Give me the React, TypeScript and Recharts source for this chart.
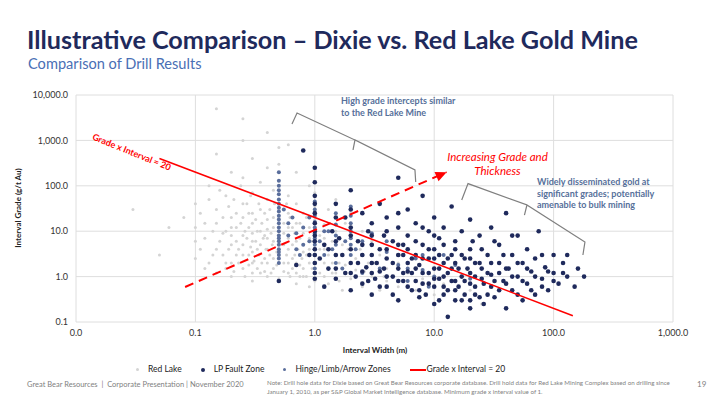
import { CartesianGrid, Scatter, ScatterChart, XAxis, YAxis } from "recharts";

type P = [number, number];

const X_TICKS = [0.01, 0.1, 1, 10, 100, 1000];
const Y_TICKS = [0.1, 1, 10, 100, 1000, 10000];

// width (m), grade (g/t Au)
const RED_LAKE: P[] = [
  [0.03, 30], [0.05, 3], [0.06, 12], [0.08, 20], [0.1, 6], [0.1, 40], [0.12, 1.5], [0.12, 15], [0.13, 100],
  [0.15, 4], [0.15, 30], [0.15, 500], [0.15, 5000], [0.17, 9], [0.18, 2], [0.18, 60], [0.2, 1], [0.2, 5],
  [0.2, 20], [0.2, 200], [0.22, 3], [0.22, 12], [0.25, 1.5], [0.25, 8], [0.25, 40], [0.25, 150], [0.25, 1000],
  [0.25, 3000], [0.28, 3], [0.28, 25], [0.3, 0.8], [0.3, 2], [0.3, 6], [0.3, 15], [0.3, 70], [0.3, 400],
  [0.33, 4], [0.33, 10], [0.35, 1.2], [0.35, 30], [0.35, 120], [0.38, 2.5], [0.38, 8], [0.4, 1], [0.4, 4],
  [0.4, 18], [0.4, 50], [0.4, 250], [0.4, 1500], [0.45, 1.5], [0.45, 6], [0.45, 12], [0.45, 80], [0.5, 0.9],
  [0.5, 2], [0.5, 3], [0.5, 5], [0.5, 8], [0.5, 10], [0.5, 15], [0.5, 20], [0.5, 30], [0.5, 50], [0.5, 100],
  [0.5, 300], [0.5, 700], [0.55, 2], [0.55, 9], [0.6, 1.2], [0.6, 4], [0.6, 25], [0.6, 60], [0.6, 800],
  [0.65, 2.5], [0.65, 12], [0.7, 0.7], [0.7, 6], [0.7, 40], [0.7, 200], [0.75, 1.8], [0.75, 15], [0.8, 1],
  [0.8, 3.5], [0.8, 9], [0.85, 20], [0.9, 0.6], [0.9, 2], [0.9, 7], [0.9, 100], [1, 0.8], [1, 1.5], [1, 3],
  [1, 5], [1, 10], [1, 18], [1, 35], [1, 70], [1.1, 2.5], [1.1, 8], [1.2, 1], [1.2, 4], [1.2, 14], [1.3, 0.7],
  [1.3, 30], [1.4, 2], [1.4, 6], [1.5, 1.2], [1.5, 3], [1.5, 10], [1.5, 50], [1.7, 0.5], [1.7, 5], [1.8, 1.8],
  [1.8, 15], [2, 0.9], [2, 3], [2, 8], [2, 25], [2.2, 1.4], [2.4, 4], [2.5, 0.6], [2.5, 10], [2.8, 2], [3, 1],
  [3, 6], [3.5, 0.5], [3.5, 3], [4, 1.5], [4, 0.8], [5, 2], [5, 0.6], [6, 1.2], [7, 0.5], [8, 0.9], [10, 0.4],
  [12, 0.7], [15, 0.3], [20, 0.5], [25, 0.25],
  // denser core of the cloud
  [0.1, 2.5], [0.1, 12], [0.11, 4], [0.11, 25], [0.12, 7], [0.13, 2], [0.13, 50], [0.14, 10], [0.14, 3],
  [0.15, 1.2], [0.15, 15], [0.16, 6], [0.16, 80], [0.17, 3], [0.17, 20], [0.18, 1.5], [0.18, 10], [0.19, 4],
  [0.19, 35], [0.2, 2], [0.2, 8], [0.2, 12], [0.21, 50], [0.21, 1.3], [0.22, 6], [0.22, 25], [0.23, 2],
  [0.23, 4], [0.24, 15], [0.24, 100], [0.25, 3], [0.25, 5], [0.25, 20], [0.26, 1], [0.26, 10], [0.27, 7],
  [0.27, 40], [0.28, 1.8], [0.28, 12], [0.29, 4.5], [0.29, 60], [0.3, 1.2], [0.3, 3.5], [0.3, 9], [0.3, 25],
  [0.31, 2.2], [0.32, 6], [0.32, 18], [0.33, 1.5], [0.34, 3], [0.34, 40], [0.35, 5], [0.35, 10], [0.36, 2],
  [0.36, 15], [0.37, 7], [0.38, 1.3], [0.38, 25], [0.39, 4], [0.4, 2], [0.4, 7], [0.4, 11], [0.42, 3],
  [0.42, 30], [0.43, 1.2], [0.43, 9], [0.44, 5], [0.45, 2.5], [0.45, 20], [0.46, 40], [0.48, 3.5], [0.48, 1.8],
  [0.55, 1.3], [0.55, 5], [0.55, 15], [0.58, 3], [0.58, 40], [0.6, 2], [0.6, 7], [0.6, 12], [0.62, 1], [0.62, 20],
  [0.65, 1.5], [0.65, 5], [0.68, 3], [0.68, 9], [0.7, 1.2], [0.7, 2], [0.7, 15], [0.72, 4], [0.75, 1], [0.75, 7],
  [0.78, 2.5], [0.8, 1.5], [0.8, 5], [0.8, 25], [0.85, 3], [0.85, 1], [0.9, 4], [0.9, 12], [0.95, 1.5],
  [0.95, 6], [1.1, 1.2], [1.1, 4], [1.2, 2], [1.2, 7], [1.3, 3], [1.4, 1.2], [1.6, 2], [1.6, 0.8], [1.9, 4],
  [2.2, 2.5], [2.6, 1.3], [3.2, 2], [3.8, 1],
];

const LP_FAULT: P[] = [
  [0.5, 0.8], [0.7, 1.8], [0.8, 600], [0.9, 3], [1, 1.2], [1, 2], [1, 4], [1, 8], [1, 15], [1, 25], [1, 60],
  [1, 120], [1, 250], [1.2, 0.6], [1.2, 5], [1.3, 1.5], [1.4, 10], [1.5, 0.9], [1.5, 3], [1.5, 40], [1.6, 7],
  [1.8, 1.2], [1.8, 20], [2, 0.5], [2, 2], [2, 4], [2, 12], [2, 80], [2.2, 1], [2.3, 6], [2.5, 0.7], [2.5, 3],
  [2.5, 25], [2.7, 1.6], [2.8, 10], [3, 0.4], [3, 2], [3, 5], [3, 15], [3.2, 0.9], [3.5, 1.3], [3.5, 4],
  [3.5, 40], [3.8, 8], [4, 0.6], [4, 2.5], [4, 20], [4.5, 1], [4.5, 6], [5, 0.3], [5, 1.5], [5, 3], [5, 12],
  [5, 150], [5.5, 0.8], [5.5, 5], [6, 2], [6, 8], [6, 30], [6.5, 0.5], [6.5, 1.2], [7, 3], [7, 15], [7.5, 0.35],
  [7.5, 1.8], [8, 0.7], [8, 5], [8, 60], [9, 1.2], [9, 2.5], [9, 10], [10, 0.25], [10, 0.6], [10, 1.5], [10, 4],
  [10, 20], [11, 0.9], [11, 7], [12, 0.4], [12, 2], [12, 12], [13, 0.13], [13, 1.2], [14, 3], [14, 35],
  [15, 0.5], [15, 0.8], [15, 6], [16, 1.5], [17, 0.3], [17, 10], [18, 2.5], [20, 0.2], [20, 0.7], [20, 1.2],
  [20, 4], [20, 18], [22, 0.4], [22, 2], [24, 8], [25, 0.9], [25, 1.5], [26, 0.25], [28, 3], [30, 0.6],
  [30, 1.1], [30, 12], [32, 0.35], [35, 2], [35, 5], [38, 0.8], [40, 0.2], [40, 1.5], [40, 25], [45, 0.5],
  [45, 3], [50, 1], [50, 8], [55, 0.3], [55, 2], [60, 0.7], [60, 4], [65, 1.3], [70, 0.4], [70, 2.5], [75, 10],
  [80, 0.9], [85, 1.6], [90, 0.5], [100, 1.2], [100, 3], [110, 0.7], [120, 2], [130, 1], [150, 0.6], [160, 1.5],
  [180, 1],
  // denser middle band
  [1, 0.9], [1, 3], [1, 6], [1, 10], [1, 40], [1.1, 2.5], [1.3, 4], [1.5, 1.5], [1.5, 6], [1.5, 20], [1.7, 3],
  [2, 1.2], [2, 8], [2, 30], [2.3, 2], [2.5, 1.3], [2.5, 5], [2.8, 0.8], [3, 1.2], [3, 3], [3, 8], [3.3, 2],
  [3.5, 0.6], [3.8, 1.5], [4, 1], [4, 4], [4, 10], [4.5, 0.4], [4.5, 2], [5, 0.8], [5, 5], [5, 25], [5.5, 1.2],
  [5.5, 3], [6, 0.6], [6, 1.3], [6, 4], [6.5, 2.5], [7, 0.8], [7, 1.5], [7, 6], [7.5, 0.5], [8, 1.2], [8, 2.5],
  [8, 12], [8.5, 0.4], [9, 0.7], [9, 4], [10, 0.9], [10, 2.5], [10, 8], [11, 0.3], [11, 1.5], [11, 3], [12, 0.6],
  [12, 1], [12, 5], [13, 0.5], [13, 2.5], [14, 0.8], [14, 1.5], [15, 0.3], [15, 2], [15, 4], [16, 0.6], [17, 1],
  [17, 3], [18, 0.4], [18, 0.8], [19, 1.5], [20, 0.3], [20, 2.5], [21, 6], [22, 0.6], [22, 1], [24, 0.35],
  [24, 2], [25, 4], [26, 0.7], [28, 1.2], [28, 0.4], [30, 2], [32, 0.8], [32, 6], [35, 0.5], [35, 1.2],
  [38, 3], [40, 0.7], [42, 1.5], [45, 1], [45, 8], [50, 0.4], [50, 2], [55, 0.8], [60, 1.5], [65, 0.5],
  [70, 1], [80, 0.6], [80, 3], [90, 1.3], [100, 0.8], [120, 1.2], [130, 3],
];

const HINGE: P[] = [
  [0.5, 2], [0.5, 2.5], [0.5, 3], [0.5, 3.5], [0.5, 4], [0.5, 5], [0.5, 6], [0.5, 7], [0.5, 8], [0.5, 10],
  [0.5, 12], [0.5, 15], [0.5, 18], [0.5, 22], [0.5, 27], [0.5, 33], [0.5, 40], [0.5, 50], [0.5, 65], [0.5, 80],
  [0.5, 100], [0.5, 130], [0.5, 200], [0.55, 30], [0.6, 8], [0.65, 20], [0.7, 4], [0.8, 12], [0.9, 6], [1, 1.5],
  [1, 2], [1, 3], [1, 4], [1, 5], [1, 7], [1, 9], [1, 12], [1, 16], [1, 22], [1, 30], [1, 45], [1.2, 3],
  [1.3, 10], [1.5, 2], [1.5, 5], [1.5, 8], [1.5, 14], [1.5, 25], [1.7, 1.5], [2, 3], [2, 5], [2, 7], [2, 10],
  [2, 15], [2, 22], [2, 35], [2.5, 1.2], [2.5, 6], [3, 2], [3, 9], [4, 1], [4, 3.5], [5, 1.8], [6, 0.8],
  [7, 2.5], [8, 1.4], [10, 1], [12, 3], [15, 1.8], [20, 0.9],
  [0.6, 15], [0.7, 9], [0.75, 3], [0.8, 5], [0.9, 20], [1.1, 6], [1.2, 10], [1.4, 4], [1.8, 6], [2.2, 4],
  [2.5, 3], [3, 5], [3.5, 1.5], [4, 6], [5, 3], [6, 1.5], [8, 3], [9, 0.6],
];

// Grade x Interval = 20 line ends
const GXI_LINE: P[] = [[0.05, 400], [145, 0.138]];
// dashed "increasing grade and thickness" arrow
const ARROW: P[] = [[0.082, 0.59], [12.7, 200]];
// bracket outlines
const BRACKET_1: P[] = [[0.644, 2300], [0.71, 4020], [2.17, 1020], [2.09, 615], [2.17, 1020], [6.9, 223], [7.0, 121]];
const BRACKET_2: P[] = [[17, 48.7], [19.2, 112], [59.8, 37.8], [57, 22.7], [59.8, 37.8], [183, 5.78], [176, 2.99]];

const pts = (a: P[]) => a.map(([x, y]) => ({ x, y }));
const fmt = (v: number) =>
  v.toLocaleString("en-US", { minimumFractionDigits: 1, maximumFractionDigits: 1 });

const NAVY = "#1f2a5c";
const HINGE_C = "#5a6e9c";
const GREY = "#d4d4d4";
const FONT = "Lato, 'Open Sans', sans-serif";

const dot = (r: number, fill: string) => (p: any) => <circle cx={p.cx} cy={p.cy} r={r} fill={fill} />;
const none = () => <g />;
const arrowHead = (p: any) =>
  p.index === 1 ? (
    <polygon
      points="0,0 -11,-5 -11,5"
      fill="#ff0000"
      transform={`translate(${p.cx},${p.cy}) rotate(-23.7)`}
    />
  ) : (
    <g />
  );

const AX = { tickLine: false, axisLine: false, tick: { fontSize: 9, fill: "#333", fontFamily: FONT } } as const;

const sw = (size: number, fill: string, mr: number) => (
  <span style={{ display: "inline-block", width: size, height: size, borderRadius: size, background: fill, marginRight: mr, verticalAlign: "middle" }} />
);

export default function App() {
  return (
    <div style={{ position: "relative", width: 722, height: 406, margin: -8, background: "#fff", fontFamily: FONT, overflow: "hidden" }}>
      <div style={{ position: "absolute", left: 0, top: 0, width: 722, height: 3, background: NAVY }} />
      <div style={{ position: "absolute", left: 27, top: 24, fontSize: 25.2, fontWeight: 700, color: NAVY, whiteSpace: "nowrap" }}>
        Illustrative Comparison – Dixie vs. Red Lake Gold Mine
      </div>
      <div style={{ position: "absolute", left: 28, top: 55, fontSize: 14.6, color: "#4a6fb5" }}>Comparison of Drill Results</div>

      <div style={{ position: "absolute", left: 0, top: 0 }}>
        <ScatterChart width={722} height={345} margin={{ top: 95, right: 49, left: 16, bottom: 0 }}>
          <CartesianGrid stroke="#dedede" />
          <XAxis dataKey="x" type="number" scale="log" domain={[0.01, 1000]} ticks={X_TICKS} tickFormatter={fmt} allowDataOverflow height={23} {...AX} />
          <YAxis dataKey="y" type="number" scale="log" domain={[0.1, 10000]} ticks={Y_TICKS} tickFormatter={fmt} allowDataOverflow width={60} {...AX} />
          <Scatter data={pts(RED_LAKE)} shape={dot(1.5, GREY)} isAnimationActive={false} />
          <Scatter data={pts(HINGE)} shape={dot(2, HINGE_C)} isAnimationActive={false} />
          <Scatter data={pts(LP_FAULT)} shape={dot(2.3, NAVY)} isAnimationActive={false} />
          <Scatter data={pts(GXI_LINE)} line={{ stroke: "#ff0000", strokeWidth: 1.6 }} shape={none} isAnimationActive={false} />
          <Scatter data={pts(ARROW)} line={{ stroke: "#ff0000", strokeWidth: 2, strokeDasharray: "9 6" }} shape={arrowHead} isAnimationActive={false} />
          <Scatter data={pts(BRACKET_1)} line={{ stroke: "#7f7f7f", strokeWidth: 1.2 }} shape={none} isAnimationActive={false} />
          <Scatter data={pts(BRACKET_2)} line={{ stroke: "#7f7f7f", strokeWidth: 1.2 }} shape={none} isAnimationActive={false} />
        </ScatterChart>
      </div>

      <div style={{ position: "absolute", left: 95, top: 131, fontSize: 9, fontWeight: 700, color: "#ff0000", transform: "rotate(22deg)", transformOrigin: "left top", whiteSpace: "nowrap" }}>
        Grade x Interval = 20
      </div>
      <div style={{ position: "absolute", left: 341, top: 95, fontSize: 9, fontWeight: 700, color: "#56709a", lineHeight: "12px" }}>
        High grade intercepts similar<br />to the Red Lake Mine
      </div>
      <div style={{ position: "absolute", left: 430, top: 150, width: 135, textAlign: "center", fontSize: 11.5, fontStyle: "italic", color: "#ff0000", lineHeight: "14px" }}>
        Increasing Grade and<br />Thickness
      </div>
      <div style={{ position: "absolute", left: 537, top: 176, fontSize: 9, fontWeight: 700, color: "#56709a", lineHeight: "11.5px" }}>
        Widely disseminated gold at<br />significant grades; potentially<br />amenable to bulk mining
      </div>

      <div style={{ position: "absolute", left: 18, top: 208, fontSize: 8, fontWeight: 700, color: "#222", transform: "translate(-50%,-50%) rotate(-90deg)", whiteSpace: "nowrap" }}>
        Interval Grade (g/t Au)
      </div>
      <div style={{ position: "absolute", left: 375, top: 345, fontSize: 8, fontWeight: 700, color: "#222", transform: "translateX(-50%)", whiteSpace: "nowrap" }}>
        Interval Width (m)
      </div>

      <div style={{ position: "absolute", left: 136, top: 364, display: "flex", gap: 19, fontSize: 8.5, color: "#222", alignItems: "center", whiteSpace: "nowrap" }}>
        <span>{sw(3, GREY, 9)}Red Lake</span>
        <span>{sw(4, NAVY, 9)}LP Fault Zone</span>
        <span>{sw(3, HINGE_C, 9)}Hinge/Limb/Arrow Zones</span>
        <span><span style={{ display: "inline-block", width: 16, height: 2, background: "#ff0000", marginRight: 1, verticalAlign: "middle" }} />Grade x Interval = 20</span>
      </div>

      <div style={{ position: "absolute", left: 27, top: 380, fontSize: 7.5, color: "#7f7f7f", whiteSpace: "nowrap" }}>
        Great Bear Resources&nbsp; |&nbsp; Corporate Presentation | November 2020
      </div>
      <div style={{ position: "absolute", left: 267, top: 379, width: 420, fontSize: 6.2, color: "#7f7f7f", lineHeight: "8.5px" }}>
        Note: Drill hole data for Dixie based on Great Bear Resources corporate database. Drill hold data for Red Lake Mining Complex based on drilling since January 1, 2010, as per S&amp;P Global Market Intelligence database. Minimum grade x interval value of 1.
      </div>
      <div style={{ position: "absolute", left: 697, top: 379, fontSize: 8, color: "#7f7f7f" }}>19</div>
    </div>
  );
}
